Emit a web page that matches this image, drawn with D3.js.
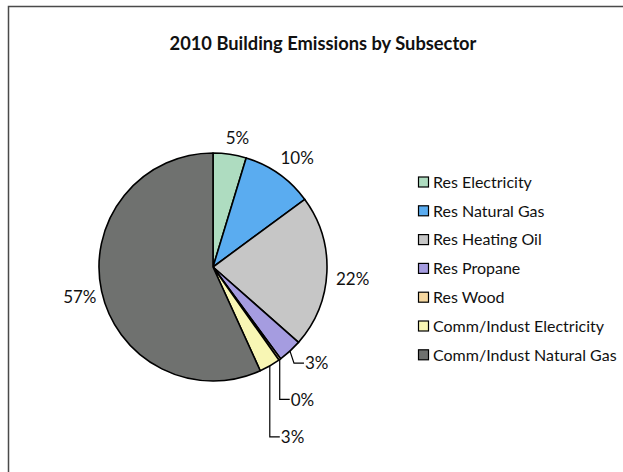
<!DOCTYPE html>
<html>
<head>
<meta charset="utf-8">
<script src="https://cdn.jsdelivr.net/npm/d3@7"></script>
<style>
  html, body { margin: 0; padding: 0; background: #fff; }
  svg { display: block; }
  text { font-family: Lato, "Open Sans", sans-serif; fill: #111; }
</style>
</head>
<body>
<svg id="chart" width="623" height="472"></svg>
<script>
// ---- data ----
const title = "2010 Building Emissions by Subsector";
const categories = [
  "Res Electricity",
  "Res Natural Gas",
  "Res Heating Oil",
  "Res Propane",
  "Res Wood",
  "Comm/Indust Electricity",
  "Comm/Indust Natural Gas"
];
const shares = [4.7, 10.2, 21.6, 3.4, 0.3, 3.0, 56.8];
const colors = ["#aedcc0", "#5aacf0", "#c6c6c6", "#a59ce0", "#f6d8a0", "#f8f6b4", "#6f716f"];
// leader-line label layout (drop below slice edge, px) for the small slices
const leaderDrop = { "Res Propane": 12, "Res Wood": 40, "Comm/Indust Electricity": 71 };

// ---- layout ----
const W = 623, H = 472;
const cx = 213, cy = 267, r = 114;
const svg = d3.select("#chart");

// chart area border
svg.append("rect")
  .attr("x", 8.5).attr("y", 6.5)
  .attr("width", W + 20).attr("height", H + 20)
  .attr("fill", "#fff").attr("stroke", "#4a4a4a").attr("stroke-width", 1.5);

// title
svg.append("text")
  .attr("x", 323).attr("y", 50)
  .attr("text-anchor", "middle")
  .style("font-weight", "bold")
  .style("font-size", "18.3px")
  .text(title);

const data = categories.map((c, i) => ({ name: c, value: shares[i], color: colors[i] }));
const pie = d3.pie().value(d => d.value).sort(null).startAngle(0).endAngle(2 * Math.PI);
const arcs = pie(data);
const arc = d3.arc().innerRadius(0).outerRadius(r);

const g = svg.append("g").attr("transform", `translate(${cx},${cy})`);
g.selectAll("path.slice").data(arcs).join("path")
  .attr("class", "slice")
  .attr("d", arc)
  .attr("fill", d => d.data.color)
  .attr("stroke", "#000")
  .attr("stroke-width", 1.6)
  .attr("stroke-linejoin", "round");

const fmt = v => Math.round(v) + "%";
const fontSize = 17;
const gap = 9;

arcs.forEach(a => {
  const m0 = (a.startAngle + a.endAngle) / 2;
  const mid = m0 < Math.PI ? m0 + 0.04 : m0 - 0.01;
  const s = Math.sin(mid), c = -Math.cos(mid);
  const label = fmt(a.data.value);
  if (leaderDrop[a.data.name] !== undefined) {
    const drop = leaderDrop[a.data.name];
    const ex = r * Math.sin(m0), ey = -r * Math.cos(m0);
    const diag = a.data.name === "Res Propane" ? 4 : 0;
    const pts = [[ex, ey], [ex + diag, ey + drop], [ex + diag + 10, ey + drop]];
    g.append("path")
      .attr("d", d3.line()(pts))
      .attr("fill", "none").attr("stroke", "#000").attr("stroke-width", 1.2);
    g.append("text")
      .attr("x", ex + diag + 11).attr("y", ey + drop)
      .attr("dy", "0.36em")
      .style("font-size", fontSize + "px")
      .text(label);
  } else {
    const t = g.append("text")
      .attr("text-anchor", "middle")
      .attr("dy", "0.36em")
      .style("font-size", fontSize + "px")
      .text(label);
    const w = t.node().getComputedTextLength();
    const h = 12;
    const g2 = m0 < Math.PI ? gap : 5;
    const dist = r + g2 + (w / 2) * Math.abs(s) + (h / 2) * Math.abs(c);
    t.attr("x", dist * s).attr("y", dist * c);
  }
});

// legend
const legend = svg.append("g").attr("transform", "translate(418,182)");
const rowH = 28.8;
const items = legend.selectAll("g").data(data).join("g")
  .attr("transform", (d, i) => `translate(0,${i * rowH})`);
items.append("rect")
  .attr("x", 0.5).attr("y", -5)
  .attr("width", 10).attr("height", 10)
  .attr("fill", d => d.color)
  .attr("stroke", "#000").attr("stroke-width", 1.2);
items.append("text")
  .attr("x", 15).attr("y", 0).attr("dy", "0.36em")
  .style("font-size", "16px")
  .text(d => d.name);
</script>
</body>
</html>
